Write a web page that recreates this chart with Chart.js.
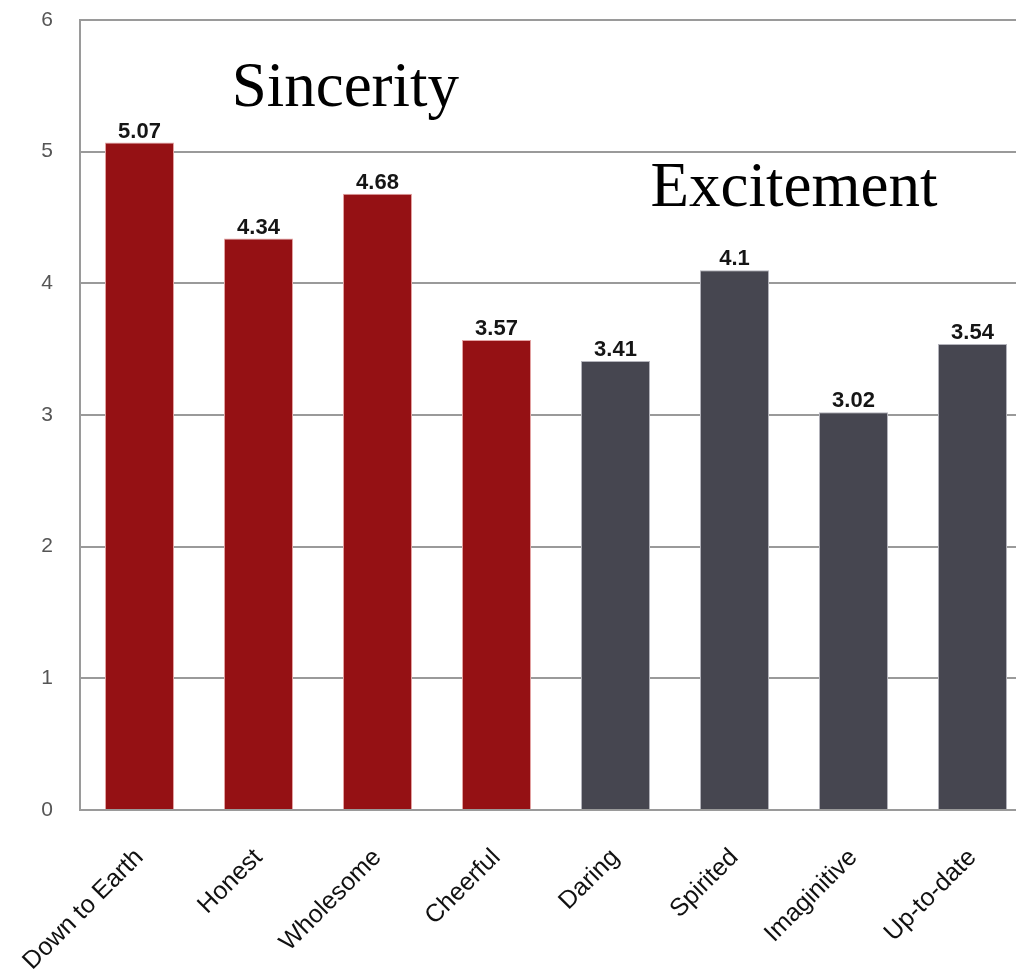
<!DOCTYPE html>
<html>
<head>
<meta charset="utf-8">
<script src="https://cdn.jsdelivr.net/npm/chart.js@4"></script>
<style>
  body { margin: 0; background: #fff; overflow: hidden; }
  #wrap { width: 1040px; height: 975px; position: relative; }
</style>
</head>
<body>
<div id="wrap"><canvas id="brandChart"></canvas></div>
<script>
// brand personality scores
const traits = ['Down to Earth', 'Honest', 'Wholesome', 'Cheerful', 'Daring', 'Spirited', 'Imaginitive', 'Up-to-date'];
const scores = [5.07, 4.34, 4.68, 3.57, 3.41, 4.1, 3.02, 3.54];
const groupOf = ['Sincerity', 'Sincerity', 'Sincerity', 'Sincerity', 'Excitement', 'Excitement', 'Excitement', 'Excitement'];
const yTicks = [0, 1, 2, 3, 4, 5, 6];

// group headings: name, category position, value position
const groupNames = ['Sincerity', 'Excitement'];
const groupAt = [1.73, 5.5];
const groupLevel = [5.35, 4.59];

const fillFor = { Sincerity: '#951114', Excitement: '#464650' };
const edgeFor = { Sincerity: '#e3a3a3', Excitement: '#b4b4bc' };

// value above every bar
const barValues = {
  id: 'barValues',
  afterDatasetsDraw(chart) {
    const ctx = chart.ctx;
    const meta = chart.getDatasetMeta(0);
    ctx.save();
    ctx.font = 'bold 22px "Liberation Sans", Arial, sans-serif';
    ctx.fillStyle = '#151515';
    ctx.textAlign = 'center';
    ctx.textBaseline = 'bottom';
    meta.data.forEach((bar, i) => {
      ctx.fillText(String(scores[i]), bar.x, bar.y);
    });
    ctx.restore();
  }
};

// group headings placed through the scales
const groupTitles = {
  id: 'groupTitles',
  afterDraw(chart) {
    const ctx = chart.ctx;
    const xs = chart.scales.x, ys = chart.scales.y;
    ctx.save();
    ctx.font = '63px "Liberation Serif", "Times New Roman", serif';
    ctx.fillStyle = '#000';
    ctx.textAlign = 'center';
    ctx.textBaseline = 'alphabetic';
    groupNames.forEach((name, i) => {
      ctx.fillText(name, xs.getPixelForValue(groupAt[i]), ys.getPixelForValue(groupLevel[i]));
    });
    ctx.restore();
  }
};

new Chart(document.getElementById('brandChart'), {
  type: 'bar',
  data: {
    labels: traits,
    datasets: [{
      data: scores,
      backgroundColor: groupOf.map(g => fillFor[g]),
      borderColor: groupOf.map(g => edgeFor[g]),
      borderWidth: 1,
      barPercentage: 0.58,
      categoryPercentage: 1
    }]
  },
  options: {
    responsive: true,
    maintainAspectRatio: false,
    animation: false,
    layout: { padding: { top: 20, right: 8, left: 0, bottom: 0 } },
    plugins: { legend: { display: false }, tooltip: { enabled: false } },
    scales: {
      x: {
        grid: { display: false, drawTicks: false },
        border: { color: '#9a9a9a', width: 2 },
        ticks: {
          minRotation: 45,
          maxRotation: 45,
          padding: 33,
          color: '#111',
          font: { size: 25, family: '"Liberation Sans", Arial, sans-serif' }
        },
        afterFit(scale) {
          scale.height = 165;
          scale.paddingLeft = 0;
          scale.paddingRight = 0;
        }
      },
      y: {
        min: 0,
        max: 6,
        afterBuildTicks(scale) { scale.ticks = yTicks.map(v => ({ value: v })); },
        grid: { color: '#9a9a9a', lineWidth: 2, drawTicks: false },
        border: { color: '#9a9a9a', width: 2 },
        ticks: {
          padding: 27,
          color: '#555',
          font: { size: 21, family: '"Liberation Sans", Arial, sans-serif' }
        },
        afterFit(scale) {
          scale.width = 80;
          scale.paddingTop = 0;
          scale.paddingBottom = 0;
        }
      }
    }
  },
  plugins: [barValues, groupTitles]
});
</script>
</body>
</html>
